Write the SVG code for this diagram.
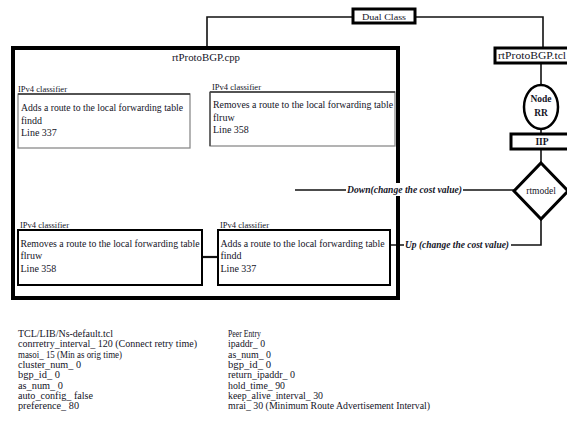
<svg xmlns="http://www.w3.org/2000/svg" width="567" height="440" viewBox="0 0 567 440">
  <style>
    text { font-family: "Liberation Serif", "Times New Roman", serif; fill: #14141f; }
    .t { font-size: 10px; }
    .lbl { font-size: 8.5px; }
    .b { font-weight: bold; }
    .it { font-style: italic; font-weight: bold; font-size: 9.5px; }
    .thick { fill: #fff; stroke: #000; stroke-width: 3.5; }
    .mid { fill: #fff; stroke: #000; stroke-width: 2.5; }
    .soft { fill: #fff; stroke: #8a8a8a; stroke-width: 1.3; }
    .edge { fill: none; stroke: #111; stroke-width: 1.6; }
  </style>

  <!-- connectors -->
  <g id="connectors">
    <polyline class="edge" points="207,47 207,17 352,17"/>
    <polyline class="edge" points="416,17 543,17 543,47"/>
    <line class="edge" x1="541" y1="63" x2="541" y2="85"/>
    <line class="edge" x1="541" y1="129" x2="541" y2="134"/>
    <line class="edge" x1="541" y1="149" x2="541" y2="163"/>
    <line class="edge" x1="295" y1="190" x2="514" y2="190"/>
    <line class="edge" x1="202" y1="257" x2="218" y2="257" style="stroke-width:2.2"/>
    <polyline class="edge" points="390,245 510,245 541,245 541,219"/>
  </g>

  <!-- outer module box -->
  <g id="rtProtoBGP-cpp">
    <rect class="thick" x="13" y="48" width="385" height="250" style="fill:none;stroke-width:4"/>
    <text class="t" x="206" y="61" text-anchor="middle" textLength="68" lengthAdjust="spacingAndGlyphs" style="font-size:10.5px">rtProtoBGP.cpp</text>
  </g>

  <!-- edge labels (white backing hides the box edge underneath) -->
  <g id="edge-labels">
    <rect x="346" y="183" width="117" height="13" fill="#fff"/>
    <text class="it" x="347" y="193" textLength="115" lengthAdjust="spacingAndGlyphs">Down(change the cost value)</text>
    <rect x="404" y="238" width="107" height="13" fill="#fff"/>
    <text class="it" x="405" y="248" textLength="104" lengthAdjust="spacingAndGlyphs">Up (change the cost value)</text>
  </g>

  <!-- classifier boxes -->
  <g id="classifier-add-top">
    <text class="lbl" x="18" y="92" textLength="49" lengthAdjust="spacingAndGlyphs">IPv4 classifier</text>
    <rect class="soft" x="18" y="94" width="172" height="54"/>
    <line x1="18" y1="94" x2="190" y2="94" stroke="#333" stroke-width="1.6"/>
    <text class="t" x="21" y="111" textLength="162" lengthAdjust="spacingAndGlyphs">Adds a route to the local forwarding table</text>
    <text class="t" x="21" y="123.5">findd</text>
    <text class="t" x="21" y="136">Line 337</text>
  </g>

  <g id="classifier-remove-top">
    <text class="lbl" x="212" y="90" textLength="49" lengthAdjust="spacingAndGlyphs">IPv4 classifier</text>
    <rect class="soft" x="210" y="92" width="185" height="54"/>
    <line x1="210" y1="92" x2="395" y2="92" stroke="#333" stroke-width="1.6"/>
    <line x1="210" y1="92" x2="210" y2="146" stroke="#444" stroke-width="1.3"/>
    <text class="t" x="213" y="108" textLength="180" lengthAdjust="spacingAndGlyphs">Removes a route to the local forwarding table</text>
    <text class="t" x="213" y="120.5">flruw</text>
    <text class="t" x="213" y="133">Line 358</text>
  </g>

  <g id="classifier-remove-bottom">
    <text class="lbl" x="20" y="228" textLength="49" lengthAdjust="spacingAndGlyphs">IPv4 classifier</text>
    <rect x="18" y="230" width="184" height="55" fill="#fff" stroke="#000" stroke-width="2"/>
    <text class="t" x="20.5" y="246.5" textLength="179" lengthAdjust="spacingAndGlyphs">Removes a route to the local forwarding table</text>
    <text class="t" x="20.5" y="259">flruw</text>
    <text class="t" x="20.5" y="272">Line 358</text>
  </g>

  <g id="classifier-add-bottom">
    <text class="lbl" x="220" y="228" textLength="49" lengthAdjust="spacingAndGlyphs">IPv4 classifier</text>
    <rect x="218" y="230" width="172" height="55" fill="#fff" stroke="#000" stroke-width="2"/>
    <text class="t" x="220.5" y="246.5" textLength="164" lengthAdjust="spacingAndGlyphs">Adds a route to the local forwarding table</text>
    <text class="t" x="220.5" y="259">findd</text>
    <text class="t" x="220.5" y="272">Line 337</text>
  </g>

  <!-- right-hand chain -->
  <g id="dual-class">
    <rect class="thick" x="353" y="9" width="62" height="14" style="stroke-width:3"/>
    <text x="384" y="19.5" text-anchor="middle" style="font-size:9px" textLength="44" lengthAdjust="spacingAndGlyphs">Dual Class</text>
  </g>

  <g id="rtProtoBGP-tcl">
    <rect class="thick" x="495" y="48" width="76" height="15" style="stroke-width:3"/>
    <text x="498" y="59" style="font-size:9.5px" textLength="68" lengthAdjust="spacingAndGlyphs">rtProtoBGP.tcl</text>
  </g>

  <g id="node-rr">
    <ellipse class="mid" cx="541" cy="107" rx="17" ry="22"/>
    <text class="b" x="541" y="102" text-anchor="middle" style="font-size:9.5px">Node</text>
    <text class="b" x="541" y="116" text-anchor="middle" style="font-size:9.5px">RR</text>
  </g>

  <g id="iip">
    <rect class="thick" x="511" y="134" width="60" height="15" style="stroke-width:3"/>
    <text class="b" x="542" y="145" text-anchor="middle" style="font-size:9.5px">IIP</text>
  </g>

  <g id="rtmodel">
    <polygon class="thick" points="541,163 568,191 541,219 514,191" style="stroke-width:3"/>
    <text x="541" y="194" text-anchor="middle" style="font-size:9.5px">rtmodel</text>
  </g>

  <!-- parameter listings -->
  <g id="ns-defaults">
    <text class="t" x="18" y="337" textLength="95" lengthAdjust="spacingAndGlyphs">TCL/LIB/Ns-default.tcl</text>
    <text class="t" x="18" y="347.3" textLength="179" lengthAdjust="spacingAndGlyphs">conrretry_interval_ 120 (Connect retry time)</text>
    <text class="t" x="18" y="357.6" textLength="104" lengthAdjust="spacingAndGlyphs">masoi_ 15 (Min as orig time)</text>
    <text class="t" x="18" y="367.9" textLength="63" lengthAdjust="spacingAndGlyphs">cluster_num_ 0</text>
    <text class="t" x="18" y="378.2" textLength="42" lengthAdjust="spacingAndGlyphs">bgp_id_ 0</text>
    <text class="t" x="18" y="388.5" textLength="45" lengthAdjust="spacingAndGlyphs">as_num_ 0</text>
    <text class="t" x="18" y="398.8" textLength="75" lengthAdjust="spacingAndGlyphs">auto_config_ false</text>
    <text class="t" x="18" y="409.1" textLength="61" lengthAdjust="spacingAndGlyphs">preference_ 80</text>
  </g>

  <g id="peer-entry">
    <text class="t" x="228" y="337" textLength="33" lengthAdjust="spacingAndGlyphs">Peer Entry</text>
    <text class="t" x="228" y="347.3" textLength="37" lengthAdjust="spacingAndGlyphs">ipaddr_ 0</text>
    <text class="t" x="228" y="357.6" textLength="43" lengthAdjust="spacingAndGlyphs">as_num_ 0</text>
    <text class="t" x="228" y="367.9" textLength="43" lengthAdjust="spacingAndGlyphs">bgp_id_ 0</text>
    <text class="t" x="228" y="378.2" textLength="67" lengthAdjust="spacingAndGlyphs">return_ipaddr_ 0</text>
    <text class="t" x="228" y="388.5" textLength="57" lengthAdjust="spacingAndGlyphs">hold_time_ 90</text>
    <text class="t" x="228" y="398.8" textLength="95" lengthAdjust="spacingAndGlyphs">keep_alive_interval_ 30</text>
    <text class="t" x="228" y="409.1" textLength="202" lengthAdjust="spacingAndGlyphs">mrai_ 30 (Minimum Route Advertisement Interval)</text>
  </g>
</svg>
